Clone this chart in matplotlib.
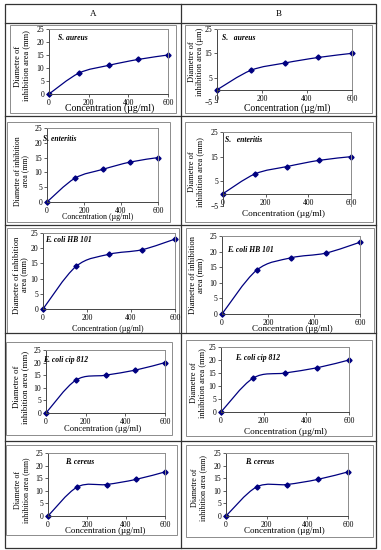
import numpy as np
import matplotlib
matplotlib.use('Agg')
import matplotlib.pyplot as plt
from matplotlib.path import Path
from matplotlib.patches import PathPatch, Rectangle

plt.rcParams['font.family'] = ['Liberation Serif', 'DejaVu Serif']

# data (same for columns A and B)
conc = [0, 150, 300, 450, 600]
x_ticks = [0, 200, 400, 600]
s_aureus = [0, 8, 11, 13.3, 15]
s_enteritis = [0, 8, 11, 13.5, 15]
ecoli_hb101 = [0, 14, 18, 19.5, 23]
ecoli_cip812 = [0, 13, 15, 17, 20]
b_cereus = [0, 11.5, 12.5, 14.5, 17.5]

titles_a = ['S. aureus', 'S. enteritis', 'E. coli HB 101', 'E. coli cip 812', 'B. cereus']
titles_b = ['S.   aureus', 'S.   enteritis', 'E. coli HB 101', 'E. coli cip 812', 'B. cereus']
series = [s_aureus, s_enteritis, ecoli_hb101, ecoli_cip812, b_cereus]

YL1 = 'Diametre of\ninhibition area (mm)'
YL2 = 'Diametre of inhibition\narea (mm)'
ylabels_a = [YL1, YL2, YL2, YL1, YL1]
ylabels_b = ['Diametre of\ninhibition area (\u00b5m)', YL1, YL2, YL1, YL1]
XLABEL = 'Concentration (\u00b5g/ml)'

W, H = 381, 550
NAVY = '#000080'

# layout in pixels: axes (l, r, t, b), chart box, title xy, ylabel xy, xlabel xy, font sizes
layout_a = [
    dict(ax=(49, 168, 29, 94), box=(10, 176, 25, 113), tt=(58, 38), yl=(22, 66), xl=(110, 108.5), yfs=6.1, xfs=7.1),
    dict(ax=(47, 158, 128, 202), box=(7, 170, 122, 222), tt=(43, 139), yl=(22, 171), xl=(98, 217), yfs=5.6, xfs=5.7),
    dict(ax=(43, 175, 233, 309), box=(7, 179, 228, 333), tt=(45, 240), yl=(21, 275), xl=(108, 329), yfs=6.1, xfs=5.8),
    dict(ax=(46, 165, 350, 413), box=(6, 172, 342, 435), tt=(43, 360), yl=(21, 387), xl=(103, 429), yfs=6.3, xfs=6.1),
    dict(ax=(48, 165, 453, 516), box=(6, 177, 445, 535), tt=(65, 462), yl=(22, 490), xl=(105, 531), yfs=5.7, xfs=6.4),
]
layout_b = [
    dict(ax=(217, 352, 29, 102), box=(185, 372, 25, 113), tt=(222, 38), yl=(196, 62), xl=(287, 108.5), yfs=6.0, xfs=6.9),
    dict(ax=(223, 351, 132, 206), box=(185, 373, 122, 222), tt=(225, 140), yl=(196, 172), xl=(283, 214.5), yfs=6.0, xfs=6.6),
    dict(ax=(222, 360, 236, 314), box=(186, 374, 228, 333), tt=(227, 250), yl=(197, 275), xl=(292, 329), yfs=6.2, xfs=6.5),
    dict(ax=(221, 349, 347, 412), box=(186, 372, 340, 436), tt=(235, 358), yl=(198, 383), xl=(285, 432), yfs=6.0, xfs=6.6),
    dict(ax=(226, 348, 453, 516), box=(186, 373, 445, 537), tt=(245, 462), yl=(199, 488), xl=(284, 531), yfs=5.8, xfs=6.5),
]
neg_axis_b = [True, True, False, False, False]


def smooth_path(xs, ys):
    # Excel style smoothed line through the points (bezier segments)
    pts = np.column_stack([xs, ys]).astype(float)
    n = len(pts)
    verts = [pts[0]]
    codes = [Path.MOVETO]
    for i in range(n - 1):
        p0 = pts[max(i - 1, 0)]
        p1 = pts[i]
        p2 = pts[i + 1]
        p3 = pts[min(i + 2, n - 1)]
        verts += [p1 + (p2 - p0) / 6, p2 - (p3 - p1) / 6, p2]
        codes += [Path.CURVE4] * 3
    return Path(verts, codes)


def ftext(x, y, s, **kw):
    fig.text(x / W, 1 - y / H, s, **kw)


fig = plt.figure(figsize=(W / 100, H / 100), dpi=100)
bg = fig.add_axes([0, 0, 1, 1], zorder=-5)
bg.set_xlim(0, W)
bg.set_ylim(H, 0)
bg.axis('off')

# table grid
lc = '#333333'
bg.add_patch(Rectangle((5, 4), 371, 544, fill=False, ec=lc, lw=0.9))
for yy in [23, 116, 225, 333, 441]:
    bg.plot([5, 376], [yy, yy], color=lc, lw=0.9)
bg.plot([181, 181], [4, 548], color=lc, lw=0.9)
ftext(93, 13.5, 'A', ha='center', va='center', fontsize=6.5)
ftext(279, 13.5, 'B', ha='center', va='center', fontsize=6.5)


def panel(lay, vals, title, ylab, neg):
    l, r, t, b = lay['ax']
    bl, br, bt, bb = lay['box']
    bg.add_patch(Rectangle((bl, bt), br - bl, bb - bt, fc='white', ec='#8c8c8c', lw=0.7))
    ax = fig.add_axes([l / W, 1 - b / H, (r - l) / W, (b - t) / H])
    ax.set_xlim(0, 600)
    if neg:
        ax.set_ylim(-5, 25)
        ax.set_yticks([-5, 5, 15, 25])
        ax.spines['bottom'].set_position(('data', 0))
        ax.axhline(-5, color='#8c8c8c', lw=0.7)
    else:
        ax.set_ylim(0, 25)
        ax.set_yticks([0, 5, 10, 15, 20, 25])
    ax.set_xticks(x_ticks)
    for s in ['top', 'right']:
        ax.spines[s].set_color('#8c8c8c')
        ax.spines[s].set_linewidth(0.7)
    for s in ['left', 'bottom']:
        ax.spines[s].set_color('#444444')
        ax.spines[s].set_linewidth(0.7)
    ax.tick_params(labelsize=5.5, length=2, width=0.6, pad=1.5, color='#444444')
    ax.add_patch(PathPatch(smooth_path(conc, vals), fill=False, ec=NAVY, lw=0.9,
                           clip_on=False))
    ax.plot(conc, vals, 'D', color=NAVY, ms=2.6, clip_on=False)
    ftext(lay['tt'][0], lay['tt'][1], title, ha='left', va='center', fontsize=5.5,
          fontweight='bold', fontstyle='italic')
    ftext(lay['yl'][0], lay['yl'][1], ylab, ha='center', va='center', fontsize=lay['yfs'],
          rotation=90, linespacing=1.0)
    ftext(lay['xl'][0], lay['xl'][1], XLABEL, ha='center', va='center', fontsize=lay['xfs'])


for i in range(5):
    panel(layout_a[i], series[i], titles_a[i], ylabels_a[i], False)
    panel(layout_b[i], series[i], titles_b[i], ylabels_b[i], neg_axis_b[i])

fig.savefig('out.png', dpi=100)
